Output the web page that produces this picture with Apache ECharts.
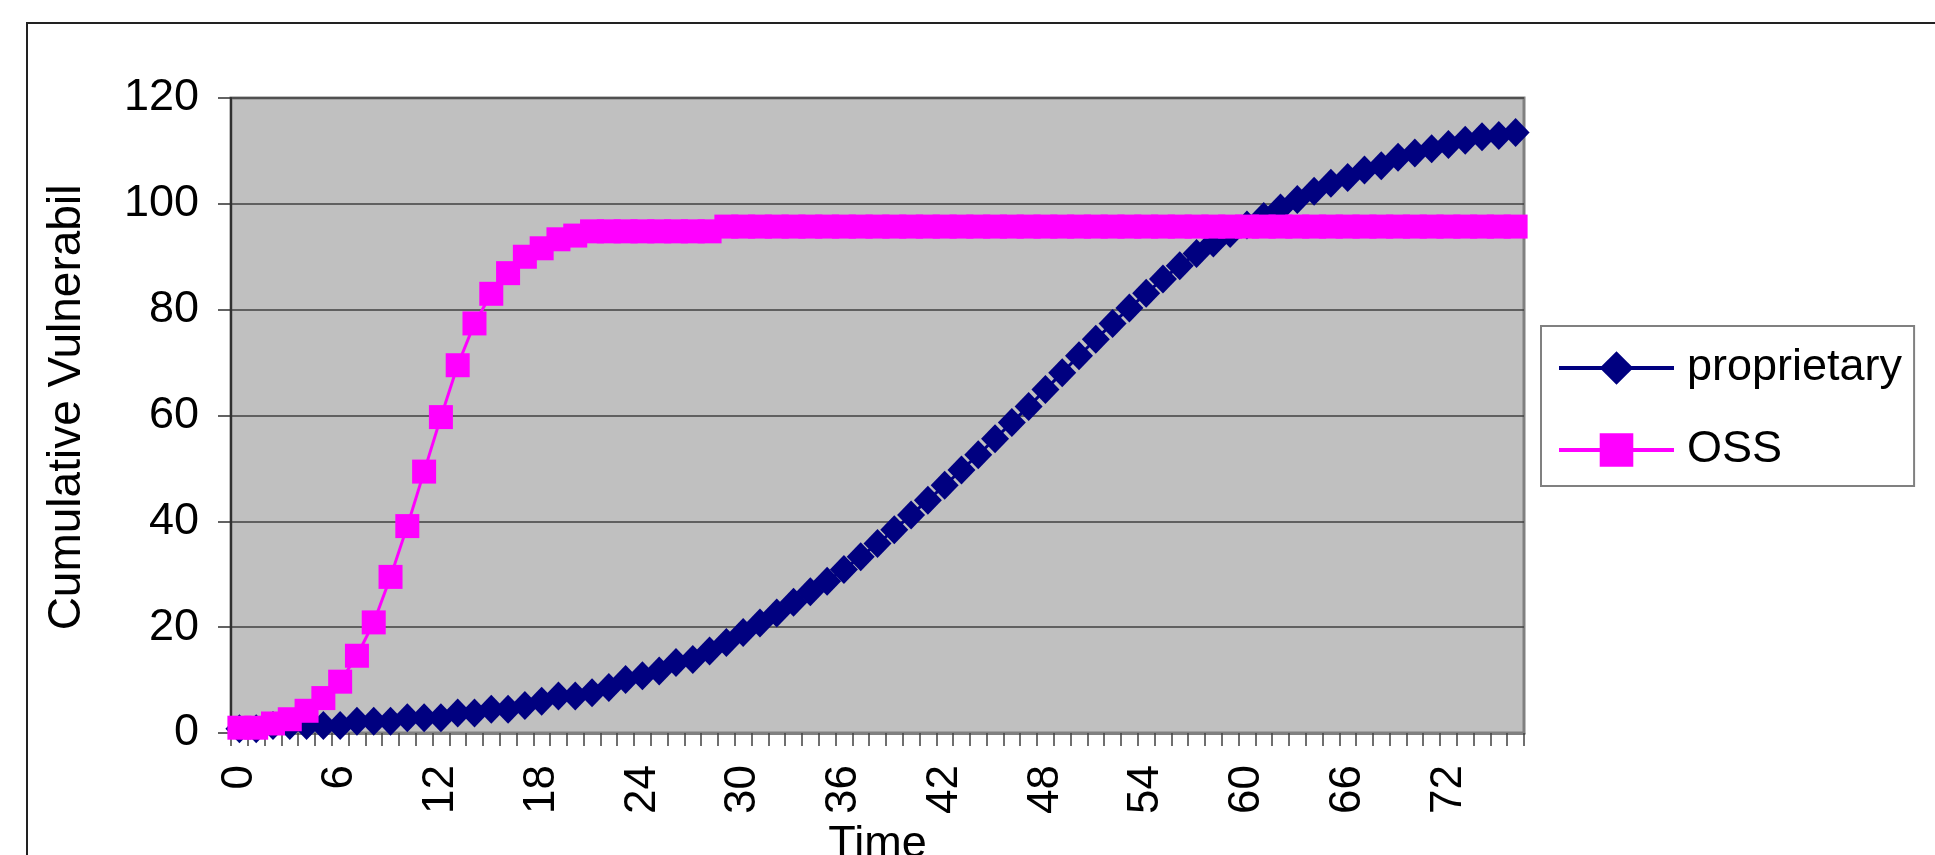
<!DOCTYPE html>
<html>
<head>
<meta charset="utf-8">
<script src="https://cdn.jsdelivr.net/npm/echarts@6/dist/echarts.min.js"></script>
<style>
html,body{margin:0;padding:0;background:#fff;}
#chart{width:1935px;height:855px;}
</style>
</head>
<body>
<div id="chart"></div>
<script>
const categories = [0,1,2,3,4,5,6,7,8,9,10,11,12,13,14,15,16,17,18,19,20,21,22,23,24,25,26,27,28,29,30,31,32,33,34,35,36,37,38,39,40,41,42,43,44,45,46,47,48,49,50,51,52,53,54,55,56,57,58,59,60,61,62,63,64,65,66,67,68,69,70,71,72,73,74,75,76];
const proprietary = [0.8,0.8,1.4,1.4,1.4,1.4,1.4,2.2,2.2,2.2,2.9,2.9,2.9,3.8,3.8,4.5,4.5,5.2,6.0,7.0,7.0,7.6,8.6,10.1,10.8,11.7,13.3,13.9,15.5,17.1,19.0,20.8,22.7,24.7,26.7,28.7,30.9,33.3,35.8,38.4,41.2,44.0,46.8,49.7,52.6,55.6,58.7,61.7,64.9,68.1,71.3,74.4,77.4,80.3,83.1,85.8,88.3,90.6,92.6,94.4,96.0,97.6,99.2,100.8,102.4,103.9,105.0,106.4,107.2,108.8,109.6,110.4,111.2,112.0,112.7,112.9,113.5];
const oss = [1.0,1.0,1.8,2.6,4.2,6.6,9.7,14.6,20.9,29.5,39.1,49.4,59.7,69.5,77.4,83.0,86.9,90.0,91.6,93.3,94.0,94.8,94.8,94.8,94.8,94.8,94.8,94.8,94.8,95.7,95.7,95.7,95.7,95.7,95.7,95.7,95.7,95.7,95.7,95.7,95.7,95.7,95.7,95.7,95.7,95.7,95.7,95.7,95.7,95.7,95.7,95.7,95.7,95.7,95.7,95.7,95.7,95.7,95.7,95.7,95.7,95.7,95.7,95.7,95.7,95.7,95.7,95.7,95.7,95.7,95.7,95.7,95.7,95.7,95.7,95.7,95.7];
const yTicks = {min: 0, max: 120, interval: 20};
const seriesNames = ['proprietary', 'OSS'];
const xName = 'Time';
const yName = 'Cumulative Vulnerabil';

const FONT = "'Liberation Sans', Arial, sans-serif";
const chart = echarts.init(document.getElementById('chart'), null, {renderer: 'canvas'});
chart.setOption({
  animation: false,
  backgroundColor: '#ffffff',
  textStyle: {fontFamily: FONT, color: '#000'},
  graphic: [{
    type: 'rect', z: -10, silent: true,
    shape: {x: 27, y: 23, width: 2000, height: 1000},
    style: {fill: 'none', stroke: '#222', lineWidth: 2}
  }],
  grid: {
    left: 231, top: 98, right: 411, bottom: 122,
    containLabel: false, outerBoundsMode: 'none',
    show: true, backgroundColor: '#C0C0C0', borderColor: '#808080', borderWidth: 3
  },
  legend: {
    orient: 'vertical',
    left: 1541, top: 326,
    padding: [17, 12, 11, 16],
    itemWidth: 115, itemHeight: 42, itemGap: 32,
    backgroundColor: '#fff', borderColor: '#808080', borderWidth: 2,
    lineStyle: {width: 4},
    textStyle: {fontFamily: FONT, fontSize: 45, lineHeight: 50, color: '#000', padding: [0, 0, 0, 8]},
    data: seriesNames
  },
  xAxis: {
    type: 'category',
    data: categories,
    boundaryGap: true,
    name: xName,
    nameLocation: 'middle',
    nameGap: 84,
    nameTextStyle: {fontFamily: FONT, fontSize: 45, color: '#000'},
    axisLine: {lineStyle: {color: '#808080', width: 3}},
    axisTick: {show: true, interval: 0, length: 13, lineStyle: {color: '#404040', width: 1.5}},
    axisLabel: {interval: 5, rotate: 90, margin: 32, fontFamily: FONT, fontSize: 44, color: '#000'},
    splitLine: {show: false}
  },
  yAxis: {
    type: 'value',
    min: yTicks.min, max: yTicks.max, interval: yTicks.interval,
    name: yName,
    nameLocation: 'middle',
    nameGap: 141,
    nameTextStyle: {fontFamily: FONT, fontSize: 46, color: '#000', padding: [0, 0, 0, 16]},
    axisLine: {show: true, lineStyle: {color: '#303030', width: 2}},
    axisTick: {show: true, length: 13, lineStyle: {color: '#303030', width: 1.5}},
    axisLabel: {margin: 32, fontFamily: FONT, fontSize: 45, color: '#000'},
    splitLine: {show: true, lineStyle: {color: '#404040', width: 1.5}}
  },
  series: [
    {
      name: seriesNames[0], type: 'line', data: proprietary,
      symbol: 'diamond', symbolSize: [28, 29], clip: false,
      showSymbol: true, showAllSymbol: true,
      itemStyle: {color: '#000080'},
      lineStyle: {color: '#000080', width: 3}
    },
    {
      name: seriesNames[1], type: 'line', data: oss,
      symbol: 'rect', symbolSize: 24, clip: false,
      showSymbol: true, showAllSymbol: true,
      itemStyle: {color: '#FF00FF'},
      lineStyle: {color: '#FF00FF', width: 3}
    }
  ]
});
</script>
</body>
</html>
